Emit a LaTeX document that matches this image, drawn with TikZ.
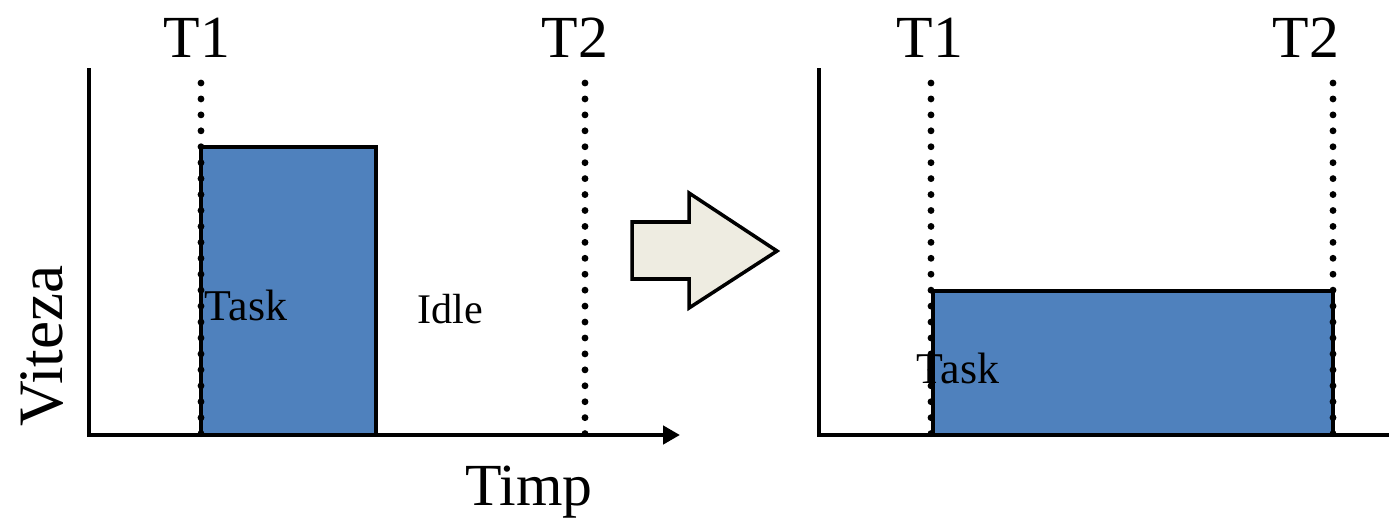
\documentclass[tikz,border=0pt]{standalone}
\usepackage{fontspec}
\setmainfont{Liberation Serif}
\usetikzlibrary{arrows.meta}
\definecolor{taskblue}{HTML}{4F81BD}
\definecolor{arrowgray}{HTML}{EEECE1}
\begin{document}
\begin{tikzpicture}[x=0.02cm,y=-0.02cm,line join=miter,
		axis/.style={line width=2.8pt},
		marker/.style={line width=3.9pt,line cap=round,dash pattern=on 0pt off 9.07pt},
		taskbar/.style={draw,line width=2.3pt,fill=taskblue},
		biglabel/.style={font=\fontsize{34}{40}\selectfont,inner sep=0pt,anchor=base},
		smalllabel/.style={font=\fontsize{25}{30}\selectfont,inner sep=0pt,anchor=base}]
	\useasboundingbox (0,0) rectangle (1389,521);
	% left panel
	\coordinate (lorig) at (89,435);
	\coordinate (ltop) at (89,68);
	\coordinate (lend) at (680,435);
	\draw[taskbar] (201,147) rectangle (376,435);
	\node[biglabel] (lt1) at (197,57) {T1};
	\node[biglabel] (lt2) at (575,57) {T2};
	\coordinate (lt1a) at (201,83); \coordinate (lt1b) at (201,435);
	\coordinate (lt2a) at (585,83); \coordinate (lt2b) at (585,435);
	\draw[marker] (lt1a)--(lt1b);
	\draw[marker] (lt2a)--(lt2b);
	\draw[axis,-{Triangle[length=9.6pt,width=10.2pt]}] (ltop)--(lorig)--(lend);
	\node[smalllabel] (ltask) at (246,320) {Task};
	\node[smalllabel,font=\fontsize{24}{28}\selectfont] (lidle) at (450,323) {Idle};
	\node[biglabel,font=\fontsize{36}{42}\selectfont,rotate=90] (speed) at (62,346) {Viteza};
	\node[biglabel] (time) at (529,505) {Timp};
	% block arrow
	\draw[line width=2pt,fill=arrowgray] (632,222)--(689,222)--(689,193)--(777,251)
		--(689,308)--(689,279)--(632,279)--cycle;
	% right panel
	\coordinate (rorig) at (819,435);
	\coordinate (rtop) at (819,68);
	\coordinate (rend) at (1389,435);
	\draw[taskbar] (933,291) rectangle (1333,435);
	\node[biglabel] (rt1) at (930,57) {T1};
	\node[biglabel] (rt2) at (1306,57) {T2};
	\coordinate (rt1a) at (931,83); \coordinate (rt1b) at (931,435);
	\coordinate (rt2a) at (1333,83); \coordinate (rt2b) at (1333,435);
	\draw[marker] (rt1a)--(rt1b);
	\draw[marker] (rt2a)--(rt2b);
	\draw[axis] (rtop)--(rorig)--(rend);
	\node[smalllabel] (rtask) at (958,383) {Task};
\end{tikzpicture}
\end{document}
